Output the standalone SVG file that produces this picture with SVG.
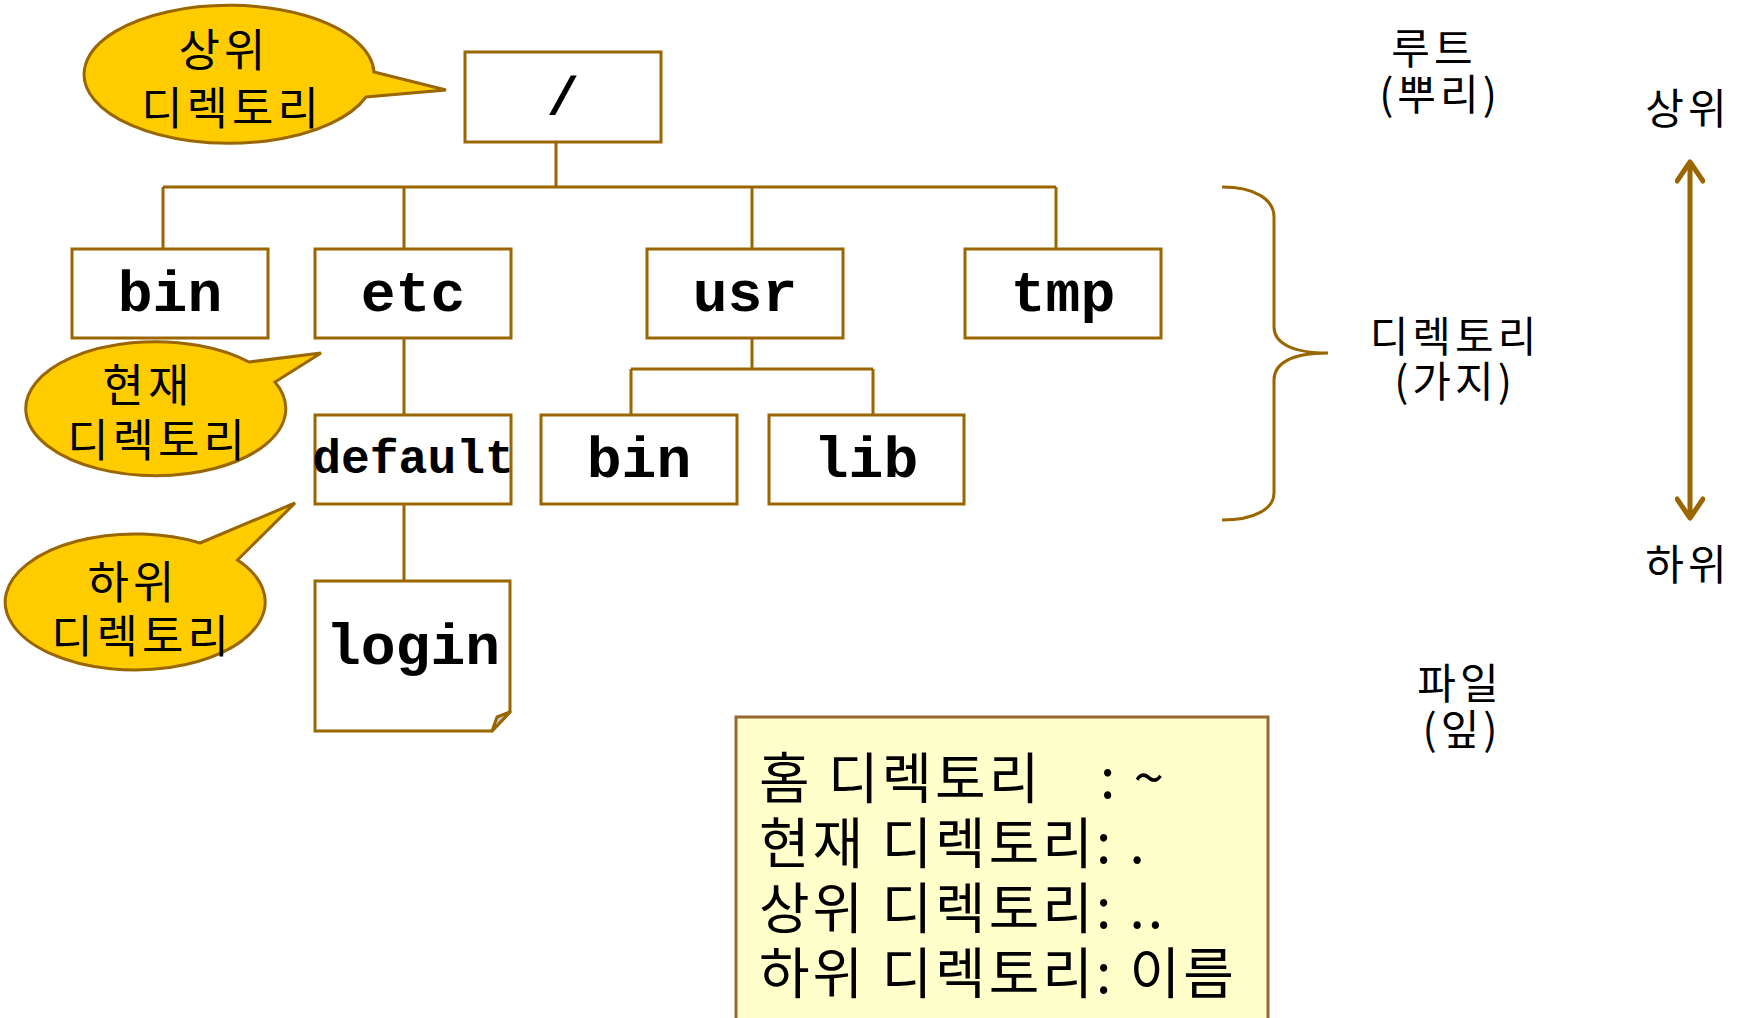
<svg xmlns="http://www.w3.org/2000/svg" width="1742" height="1018" viewBox="0 0 1742 1018">
<style>
.box{fill:#ffffff;stroke:#996600;stroke-width:3}
.lbl{font-family:"Liberation Mono","Courier New",monospace;font-weight:bold;font-size:58px;fill:#000;text-anchor:middle}
.conn{fill:none;stroke:#996600;stroke-width:3}
.callout{fill:#ffcc00;stroke:#996600;stroke-width:3;stroke-linejoin:miter}
.ko{font-family:"Noto Sans CJK KR","Noto Sans",sans-serif;fill:#000;text-anchor:middle}
.co{font-size:45px;letter-spacing:4px}
.side{font-size:42px;letter-spacing:4px}
.note{fill:#ffffcc;stroke:#996633;stroke-width:3}
.notetxt{font-family:"Noto Sans CJK KR","Noto Sans",sans-serif;font-size:55px;letter-spacing:3px;fill:#000}
</style>
<defs>
<marker id="chev" markerUnits="userSpaceOnUse" viewBox="0 0 30 30" markerWidth="30" markerHeight="30" refX="25" refY="15" orient="auto-start-reverse">
<path d="M6,2 L25,15 L6,28" fill="none" stroke="#996600" stroke-width="5" stroke-linecap="round" stroke-linejoin="round"/>
</marker>
</defs>
<rect width="1742" height="1018" fill="#ffffff"/>

<g id="connectors">
<path class="conn" d="M556,142 V187 M163,187 H1056 M163,187 V249 M404,187 V249 M752,187 V249 M1056,187 V249"/>
<path class="conn" d="M404,338 V415 M404,504 V581"/>
<path class="conn" d="M752,338 V369 M631,369 H873 M631,369 V415 M873,369 V415"/>
<path class="conn" d="M1222,187 C1256,187 1274,200 1274,217 V327 C1274,343 1292,353 1328,353 C1292,353 1274,363 1274,380 V493 C1274,508 1256,520 1222,520"/>
<line x1="1690" y1="162" x2="1690" y2="518" stroke="#996600" stroke-width="5" marker-start="url(#chev)" marker-end="url(#chev)"/>
</g>

<g id="root">
<rect class="box" x="465" y="52" width="196" height="90"/>
<text class="lbl" x="563" y="114" style="font-size:54px">/</text>
</g>
<g id="bin">
<rect class="box" x="72" y="249" width="196" height="89"/>
<text class="lbl" x="170" y="311">bin</text>
</g>
<g id="etc">
<rect class="box" x="315" y="249" width="196" height="89"/>
<text class="lbl" x="413" y="311">etc</text>
</g>
<g id="usr">
<rect class="box" x="647" y="249" width="196" height="89"/>
<text class="lbl" x="745" y="311">usr</text>
</g>
<g id="tmp">
<rect class="box" x="965" y="249" width="196" height="89"/>
<text class="lbl" x="1063" y="311">tmp</text>
</g>
<g id="default">
<rect class="box" x="315" y="415" width="196" height="89"/>
<text class="lbl" x="413" y="473" style="font-size:48px">default</text>
</g>
<g id="usr-bin">
<rect class="box" x="541" y="415" width="196" height="89"/>
<text class="lbl" x="639" y="477">bin</text>
</g>
<g id="lib">
<rect class="box" x="769" y="415" width="195" height="89"/>
<text class="lbl" x="866" y="477">lib</text>
</g>
<g id="login">
<path class="box" d="M315,581 H510 V712 L492,731 H315 Z"/>
<path d="M510,712 L497,717 L492,731 Z" fill="#cccccc" stroke="#996600" stroke-width="3" stroke-linejoin="round"/>
<text class="lbl" x="413" y="664">login</text>
</g>

<g id="callout-parent">
<path class="callout" d="M374,72 L446,90 L366,97 A145 69 0 1 1 374,72 Z"/>
<text class="ko co"><tspan x="224" y="67">상위</tspan><tspan x="232" y="125">디렉토리</tspan></text>
</g>
<g id="callout-current">
<path class="callout" d="M249,362 L321,353 L275,382 A130 67 0 1 1 249,362 Z"/>
<text class="ko co"><tspan x="148" y="402">현재</tspan><tspan x="158" y="457">디렉토리</tspan></text>
</g>
<g id="callout-child">
<path class="callout" d="M200,543 L295,503 L237.5,560 A130 68 0 1 1 200,543 Z"/>
<text class="ko co"><tspan x="133" y="599">하위</tspan><tspan x="142" y="653">디렉토리</tspan></text>
</g>

<g id="label-root">
<text class="ko side"><tspan x="1434" y="64">루트</tspan><tspan x="1440" y="110">(뿌리)</tspan></text>
</g>
<g id="label-dir">
<text class="ko side"><tspan x="1455" y="352">디렉토리</tspan><tspan x="1455" y="397">(가지)</tspan></text>
</g>
<g id="label-file">
<text class="ko side"><tspan x="1460" y="699">파일</tspan><tspan x="1462" y="745">(잎)</tspan></text>
</g>
<g id="label-up">
<text class="ko side" x="1688" y="124">상위</text>
</g>
<g id="label-down">
<text class="ko side" x="1688" y="580">하위</text>
</g>

<g id="note">
<rect class="note" x="736" y="717" width="532" height="320"/>
<text class="notetxt"><tspan x="759" y="798">홈 디렉토리</tspan><tspan x="1100" y="798">: ~</tspan><tspan x="759" y="863">현재 디렉토리: .</tspan><tspan x="759" y="928">상위 디렉토리: ..</tspan><tspan x="759" y="993">하위 디렉토리: 이름</tspan></text>
</g>
</svg>
